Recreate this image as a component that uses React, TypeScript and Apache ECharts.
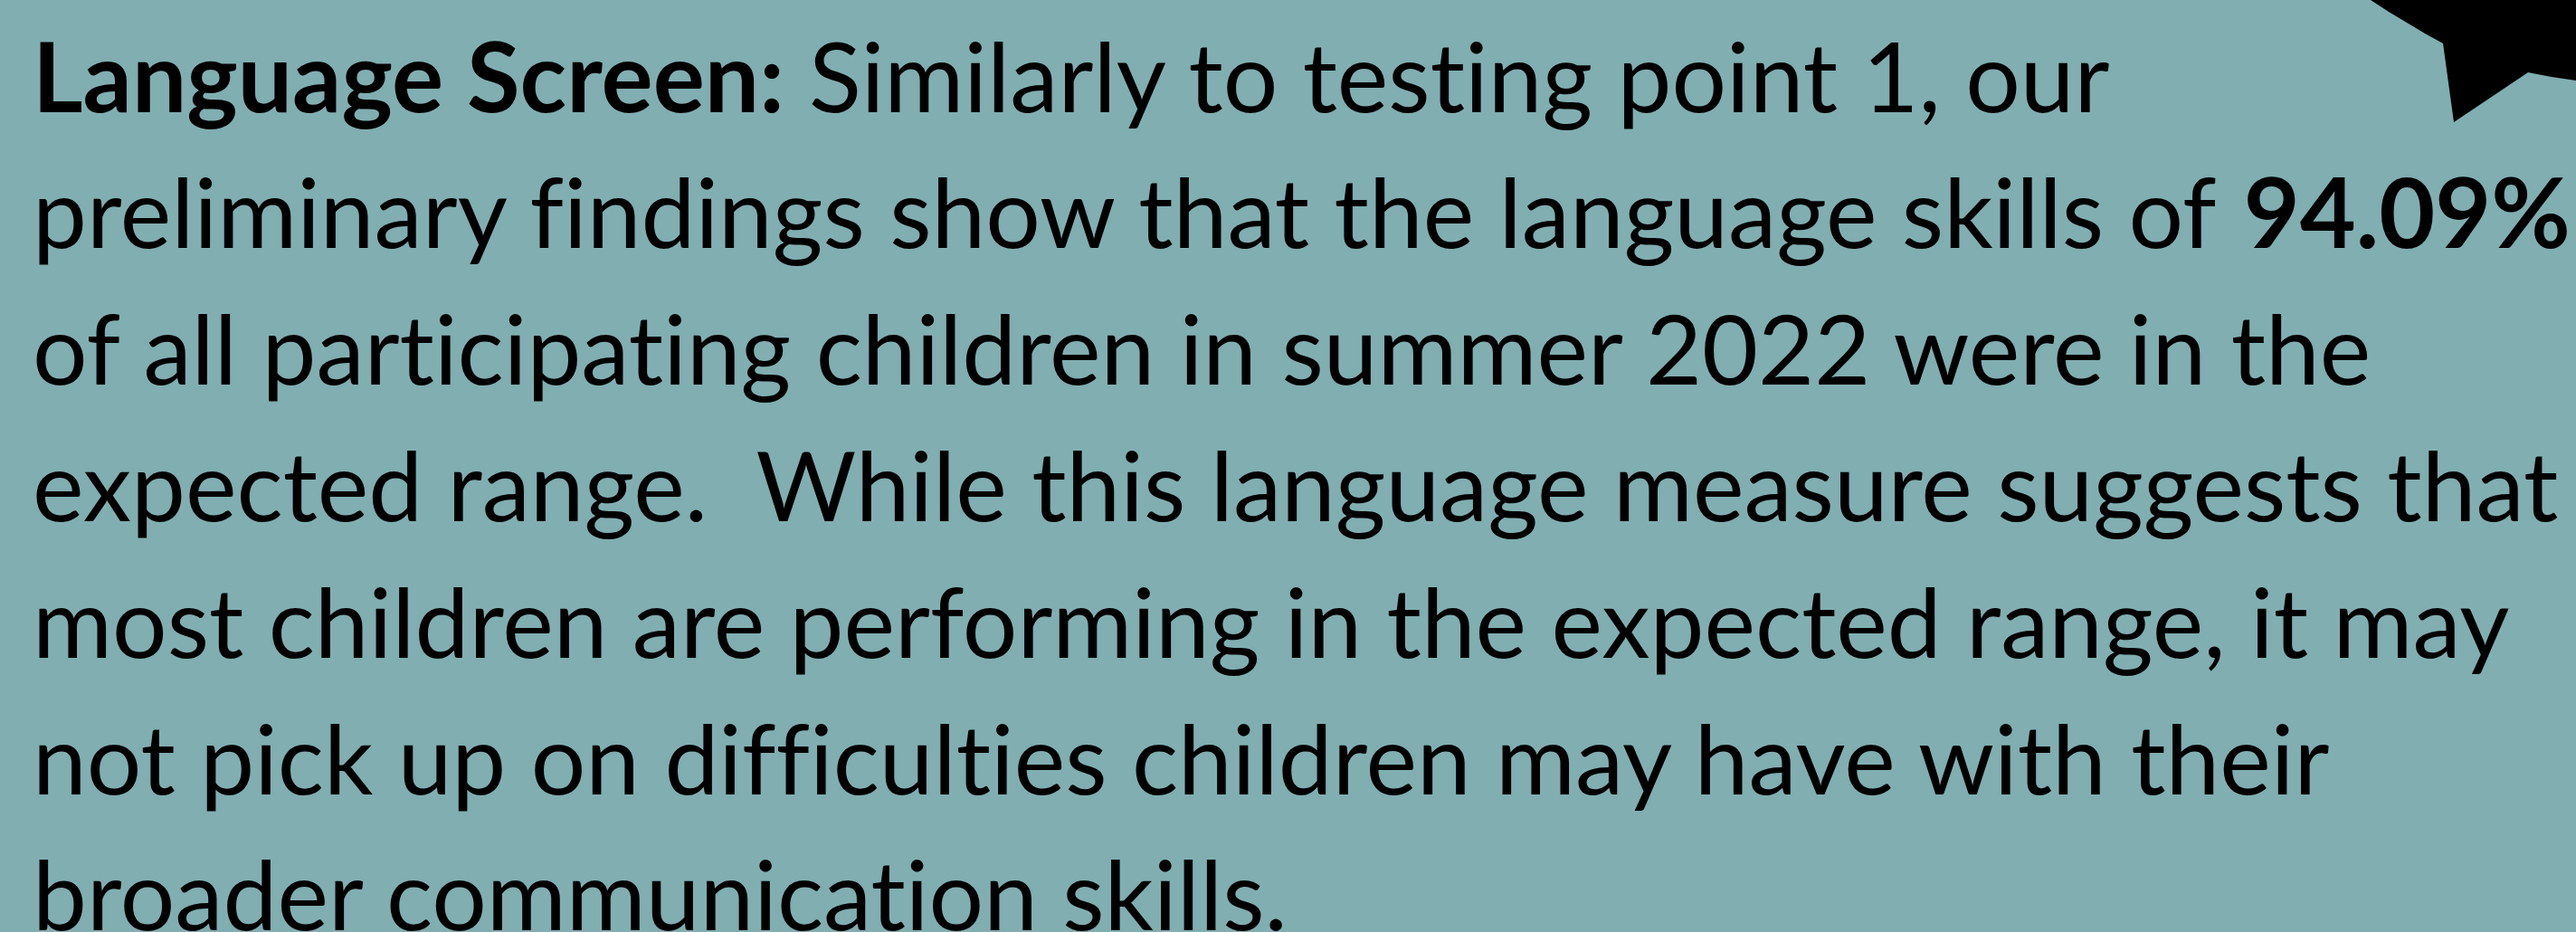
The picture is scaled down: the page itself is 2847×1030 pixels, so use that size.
import React, { useEffect, useRef } from "react";
import * as echarts from "echarts";

const WIDTH = 2847;
const HEIGHT = 1030;

// Text lines (rich-text markup: {b|...} = bold)
const lines: string[] = [
  "{b|Language Screen:} Similarly to testing point 1, our",
  "preliminary findings show that the language skills of {b|94.09%}",
  "of all participating children in summer 2022 were in the",
  "expected range.  While this language measure suggests that",
  "most children are performing in the expected range, it may",
  "not pick up on difficulties children may have with their",
  "broader communication skills.",
];

// Decorative black badge in the top-right corner (partially off-canvas)
const badgePoints: number[][] = [
  [2620, 0], [2640, 13], [2660, 25], [2680, 37], [2700, 48],
  [2712, 135], [2794, 80], [2820, 85], [2847, 89], [2847, 0],
];

const FONT_SIZE = 107;
const FIRST_BASELINE = 123;
const LINE_STEP = 150.8;
const LEFT = 36;

export default function App() {
  const ref = useRef<HTMLDivElement>(null);
  useEffect(() => {
    document.body.style.margin = "0";
    const st = document.createElement("style");
    st.textContent = "svg text, svg tspan { font-variant-ligatures: none !important; font-feature-settings: 'liga' 0, 'clig' 0 !important; }";
    document.head.appendChild(st);
    if (!ref.current) return;
    const chart = echarts.init(ref.current, null, { renderer: "svg" });
    const textEls = lines.map((t, i) => ({
      type: "text",
      x: LEFT,
      y: FIRST_BASELINE + LINE_STEP * i - 41,
      style: {
        text: t,
        fill: "#000",
        fontFamily: "Lato",
        fontSize: FONT_SIZE,
        verticalAlign: "middle",
        align: "left",
        rich: {
          b: { fontWeight: "bold", fontFamily: "Lato", fontSize: FONT_SIZE, fill: "#000" },
        },
      },
    }));
    chart.setOption({
      animation: false,
      backgroundColor: "#81aeb1",
      graphic: [
        {
          type: "polygon",
          shape: { points: badgePoints },
          style: { fill: "#000" },
        },
        ...textEls,
      ],
    });
    return () => {
      chart.dispose();
      st.remove();
    };
  }, []);
  return <div ref={ref} style={{ width: WIDTH, height: HEIGHT }} />;
}
